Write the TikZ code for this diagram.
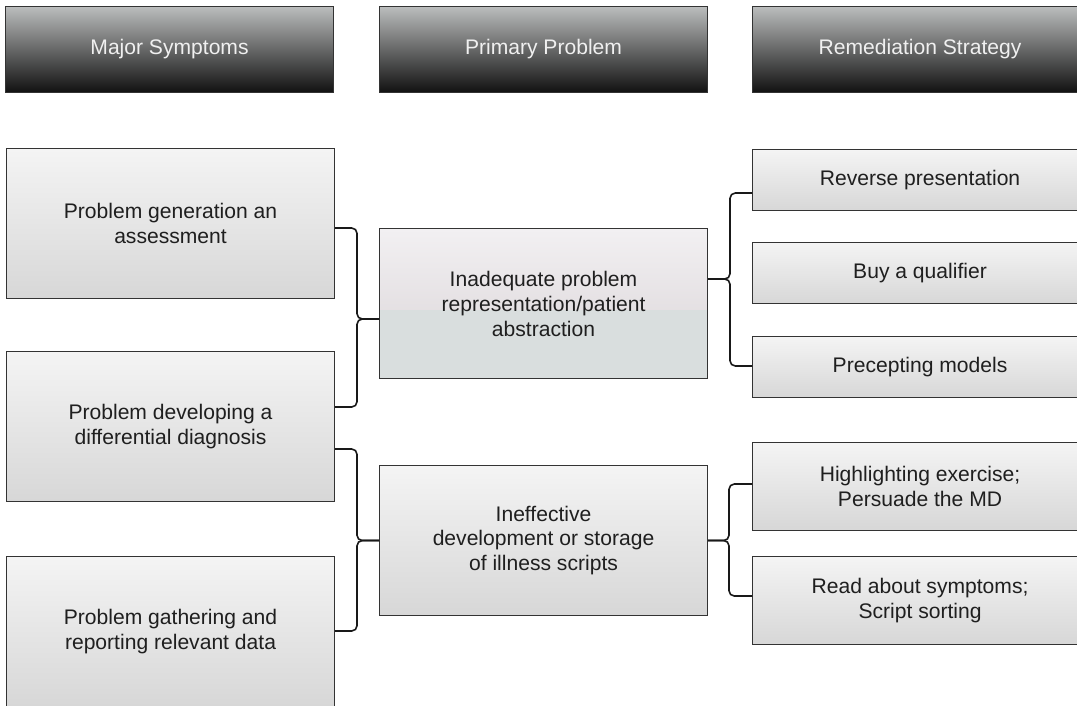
\documentclass[tikz,border=0pt]{standalone}
\usepackage{fontspec}
\setmainfont{Liberation Sans}
\usetikzlibrary{positioning,calc}
\definecolor{headtop}{HTML}{BBBDBD}
\definecolor{headbot}{HTML}{111111}
\definecolor{boxtop}{HTML}{F4F4F4}
\definecolor{boxbot}{HTML}{D7D7D7}
\definecolor{mixtop}{HTML}{F2F0F2}
\definecolor{mixbot}{HTML}{D9D3D6}
\definecolor{mixlow}{HTML}{D9DEDE}
\definecolor{frame}{HTML}{333333}

\begin{document}
\begin{tikzpicture}[x=0.2mm, y=-0.2mm]
  % styles
  \tikzstyle{heading}=[rectangle, draw=frame, line width=0.6pt, top color=headtop, bottom color=headbot, text=white!94!black, minimum width=65.6mm, minimum height=17.2mm, anchor=north west, inner sep=0pt, font=\fontsize{12}{14.2}\selectfont]
  \tikzstyle{symptom}=[rectangle, draw=frame, line width=0.6pt, top color=boxtop, bottom color=boxbot, text=black!88, minimum width=65.6mm, minimum height=30mm, anchor=north west, inner sep=0pt, align=center, font=\fontsize{12}{14.2}\selectfont]
  \tikzstyle{problem}=[symptom]
  \tikzstyle{strategy}=[symptom, minimum width=67mm, minimum height=12.2mm]
  \tikzstyle{tallstrategy}=[strategy, minimum height=17.6mm]
  \tikzstyle{brace}=[draw=black!90, line width=0.9pt, rounded corners=3pt]

  \path[use as bounding box] (0,0) rectangle (1077,705);
  \clip (0,0) rectangle (1077,705);

  % column heads
  \node [heading] (head_symptoms) at (5,6) {Major Symptoms};
  \node [heading] (head_problem) at (379,6) {Primary Problem};
  \node [heading, minimum width=67mm] (head_strategy) at (752,6) {Remediation Strategy};

  % major symptoms
  \node [symptom] (sym_assess) at (6,148) {Problem generation an\\assessment};
  \node [symptom] (sym_diff) at (6,351) {Problem developing a\\differential diagnosis};
  \node [symptom] (sym_data) at (6,556) {Problem gathering and\\reporting relevant data};

  % primary problems
  \node [problem, top color=mixtop, bottom color=mixbot,
    path picture={\fill[mixlow] ($(path picture bounding box.south west)!0.46!(path picture bounding box.north west)$) rectangle (path picture bounding box.south east);}]
    (prob_repr) at (379,228) {Inadequate problem\\representation/patient\\abstraction};
  \node [problem] (prob_scripts) at (379,465) {Ineffective\\development or storage\\of illness scripts};

  % remediation strategies
  \node [strategy] (str_reverse) at (752,149) {Reverse presentation};
  \node [strategy] (str_qualifier) at (752,242) {Buy a qualifier};
  \node [strategy] (str_precept) at (752,336) {Precepting models};
  \node [tallstrategy] (str_highlight) at (752,442) {Highlighting exercise;\\Persuade the MD};
  \node [tallstrategy] (str_read) at (752,556) {Read about symptoms;\\Script sorting};

  % braces
  \draw [brace] (sym_assess.east |- 0,228) -| (357,319) -- (prob_repr.west |- 0,319);
  \draw [brace] (prob_repr.west |- 0,319) -- (357,319) |- (sym_diff.east |- 0,407);
  \draw [brace] (sym_diff.east |- 0,449) -| (prob_scripts.west -| 357,0) -- (prob_scripts.west);
  \draw [brace] (prob_scripts.west) -- (prob_scripts.west -| 357,0) |- (sym_data.east |- 0,631);

  \draw [brace] (prob_repr.east |- 0,279) -| (730,193) -- (str_reverse.west |- 0,193);
  \draw [brace] (prob_repr.east |- 0,279) -| (730,366) -- (str_precept.west |- 0,366);
  \draw [brace] (prob_scripts.east) -| (729,484) -- (str_highlight.west |- 0,484);
  \draw [brace] (prob_scripts.east) -| (729,596) -- (str_read.west |- 0,596);
\end{tikzpicture}
\end{document}
